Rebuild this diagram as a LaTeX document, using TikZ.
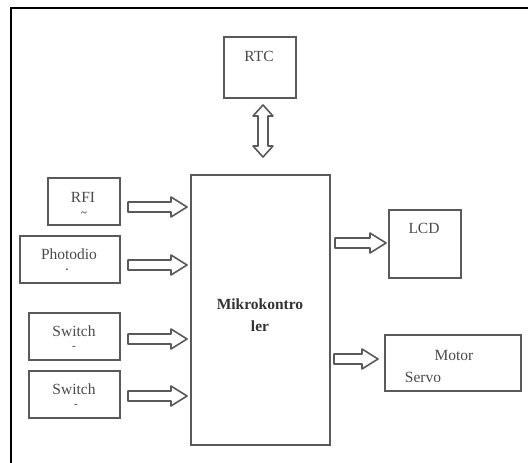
\documentclass[tikz,border=0pt]{standalone}
\usepackage{fontspec}
\setmainfont{Liberation Serif}
\usetikzlibrary{calc}
\definecolor{boxline}{HTML}{5A5A5A}
\definecolor{txt}{HTML}{4A4A4A}
\tikzset{
  blk/.style={draw=boxline, line width=1.6pt, inner sep=0pt, anchor=north west},
  lbl/.style={text=txt, font=\fontsize{15.5}{18}\selectfont, inner sep=0pt},
  tiny/.style={text=txt, font=\fontsize{11}{12}\selectfont\bfseries, inner sep=0pt},
  hblock/.style={draw=boxline, line width=1.6pt, line join=round,
    to path={let \p1=(\tikztostart), \p2=(\tikztotarget) in
      (\x1,\y1+5pt) -- (\x2-16pt,\y1+5pt) -- (\x2-16pt,\y1+10pt) -- (\x2,\y1)
      -- (\x2-16pt,\y1-10pt) -- (\x2-16pt,\y1-5pt) -- (\x1,\y1-5pt) -- cycle}},
  vdblock/.style={draw=boxline, line width=1.6pt, line join=round,
    to path={let \p1=(\tikztostart), \p2=(\tikztotarget) in
      (\x1,\y1) -- (\x1+10pt,\y1-11pt) -- (\x1+5pt,\y1-11pt) -- (\x1+5pt,\y2+11pt)
      -- (\x1+10pt,\y2+11pt) -- (\x1,\y2) -- (\x1-10pt,\y2+11pt) -- (\x1-5pt,\y2+11pt)
      -- (\x1-5pt,\y1-11pt) -- (\x1-10pt,\y1-11pt) -- cycle}}
}
\begin{document}
\begin{tikzpicture}[x=1pt,y=-1pt]
\useasboundingbox (0,0) rectangle (528,463);
\fill[white] (0,0) rectangle (528,463);
% frame
\draw[black, line width=2pt] (11,8) -- (528.5,8);
\draw[black, line width=1.6pt] (11,7) -- (11,463.5);

% boxes
\node[blk, minimum width=72pt, minimum height=61pt] (rtc) at (223,36) {};
\node[blk, minimum width=139pt, minimum height=270pt] (mc) at (190,174) {};
\node[blk, minimum width=72pt, minimum height=47pt] (rfi) at (47,177) {};
\node[blk, minimum width=100pt, minimum height=47pt] (pd) at (19,235) {};
\node[blk, minimum width=91pt, minimum height=47pt] (sw1) at (28,312) {};
\node[blk, minimum width=91pt, minimum height=47pt] (sw2) at (28,370) {};
\node[blk, minimum width=72pt, minimum height=68pt] (lcd) at (388,209) {};
\node[blk, minimum width=136pt, minimum height=56pt] (mot) at (384,334) {};

% texts
\node[lbl] (trtc) at (259,56) {RTC};
\node[lbl, font=\fontsize{15.5}{18}\selectfont\bfseries, text=black!80] (tmc1) at (260,304) {Mikrokontro};
\node[lbl, font=\fontsize{15.5}{18}\selectfont\bfseries, text=black!80] (tmc2) at (260,326) {ler};
\node[lbl] (trfi) at (83,197) {RFI};
\node[tiny] (trfi2) at (84,214) {\char`\~};
\node[lbl] (tpd) at (69,254) {Photodio};
\node[tiny] (tpd2) at (67,270) {.};
\node[lbl] (tsw1) at (74,331) {Switch};
\node[tiny] (tsw12) at (74,348) {-};
\node[lbl] (tsw2) at (74,389) {Switch};
\node[tiny] (tsw22) at (76,406) {-};
\node[lbl] (tlcd) at (424,228) {LCD};
\node[lbl] (tmot1) at (454,355) {Motor};
\node[lbl] (tmot2) at (423,377) {Servo};

% arrow end points
\coordinate (a1s) at (128,207);  \coordinate (a1e) at (187,207);
\coordinate (a2s) at (128,265);  \coordinate (a2e) at (187,265);
\coordinate (a3s) at (128,339);  \coordinate (a3e) at (187,339);
\coordinate (a4s) at (128,396);  \coordinate (a4e) at (187,396);
\coordinate (a5s) at (335,243);  \coordinate (a5e) at (386,243);
\coordinate (a6s) at (334,359);  \coordinate (a6e) at (378,359);
\coordinate (a7s) at (263,105);  \coordinate (a7e) at (263,157);

\draw[hblock] (a1s) to (a1e);
\draw[hblock] (a2s) to (a2e);
\draw[hblock] (a3s) to (a3e);
\draw[hblock] (a4s) to (a4e);
\draw[hblock] (a5s) to (a5e);
\draw[hblock] (a6s) to (a6e);
\draw[vdblock] (a7s) to (a7e);
\end{tikzpicture}
\end{document}
